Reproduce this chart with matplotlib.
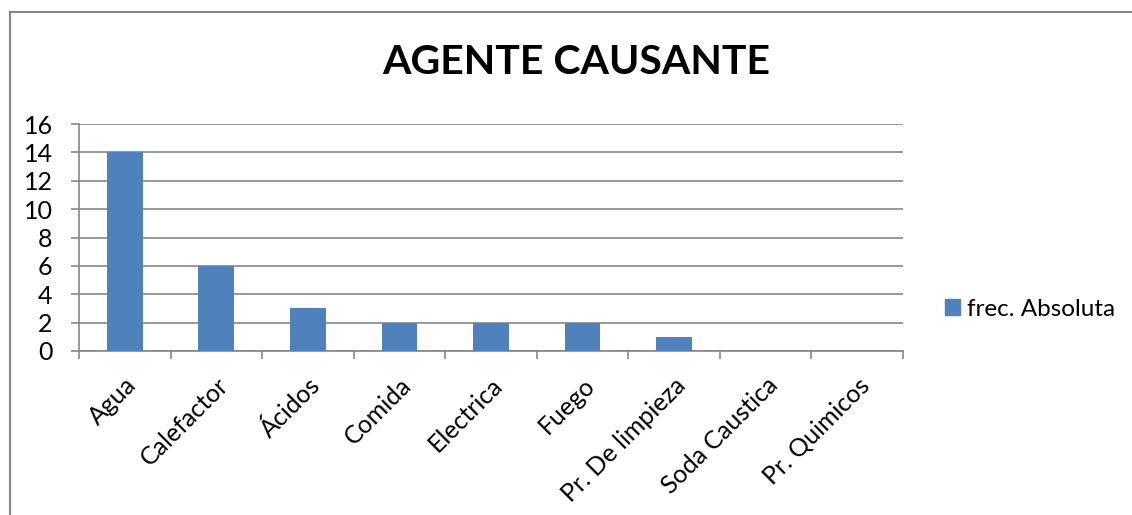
import matplotlib
matplotlib.use("Agg")
import matplotlib.pyplot as plt
from matplotlib.lines import Line2D

categories = ["Agua", "Calefactor", "Ácidos", "Comida", "Electrica", "Fuego",
              "Pr. De limpieza", "Soda Caustica", "Pr. Quimicos"]
values = [14, 6, 3, 2, 2, 2, 1, 0, 0]
series_name = "frec. Absoluta"
title = "AGENTE CAUSANTE"
yticks = [0, 2, 4, 6, 8, 10, 12, 14, 16]

plt.rcParams['font.family'] = ['Lato', 'DejaVu Sans']

W, H = 1132, 515
fig = plt.figure(figsize=(W / 100, H / 100), dpi=100)
ax = fig.add_axes([79 / W, 1 - 351 / H, (903 - 79) / W, (351 - 124) / H])

blue = "#4F81BD"
grid = "#868686"
x = list(range(len(categories)))
ax.bar(x, values, width=0.39, color=blue, edgecolor="none", label=series_name, zorder=3)
ax.set_xlim(-0.5, len(categories) - 0.5)
ax.set_ylim(0, 16)
ax.set_yticks(yticks)
ax.set_yticklabels([str(v) for v in yticks], fontsize=18)
ax.yaxis.grid(True, color=grid, linewidth=1.2, zorder=0)
ax.tick_params(axis='y', length=6, width=1.2, color=grid, pad=13)
for s in ["top", "right"]:
    ax.spines[s].set_visible(False)
for s in ["left", "bottom"]:
    ax.spines[s].set_color(grid)
    ax.spines[s].set_linewidth(1.2)

# category tick marks between categories
ax.set_xticks([i - 0.5 for i in range(len(categories) + 1)], minor=False)
ax.set_xticklabels([])
ax.tick_params(axis='x', length=6, width=1.2, color=grid)
ax.set_xticks(x, minor=True)
ax.set_xticklabels(categories, minor=True, rotation=45, ha='right',
                   rotation_mode='anchor', fontsize=18)
ax.tick_params(axis='x', which='minor', length=0, pad=16)

fig.text(576 / W, 1 - 63 / H, title, ha='center', va='center',
         fontsize=29.5, fontweight='bold')

# legend
handle = plt.Rectangle((0, 0), 1, 1, color=blue)
fig.legend([handle], [series_name], loc='center left',
           bbox_to_anchor=(945 / W, 1 - 309 / H), frameon=False,
           borderpad=0, borderaxespad=0,
           fontsize=17.5, handlelength=0.6, handleheight=0.6, handletextpad=0.3)

# chart frame (left and top edges visible)
fig.add_artist(Line2D([10 / W, 10 / W], [1 - 12 / H, 0], transform=fig.transFigure,
                      color="#868686", linewidth=1.5))
fig.add_artist(Line2D([10 / W, 1], [1 - 12 / H, 1 - 12 / H], transform=fig.transFigure,
                      color="#868686", linewidth=1.5))

fig.savefig("out.png", dpi=100, facecolor="white")
